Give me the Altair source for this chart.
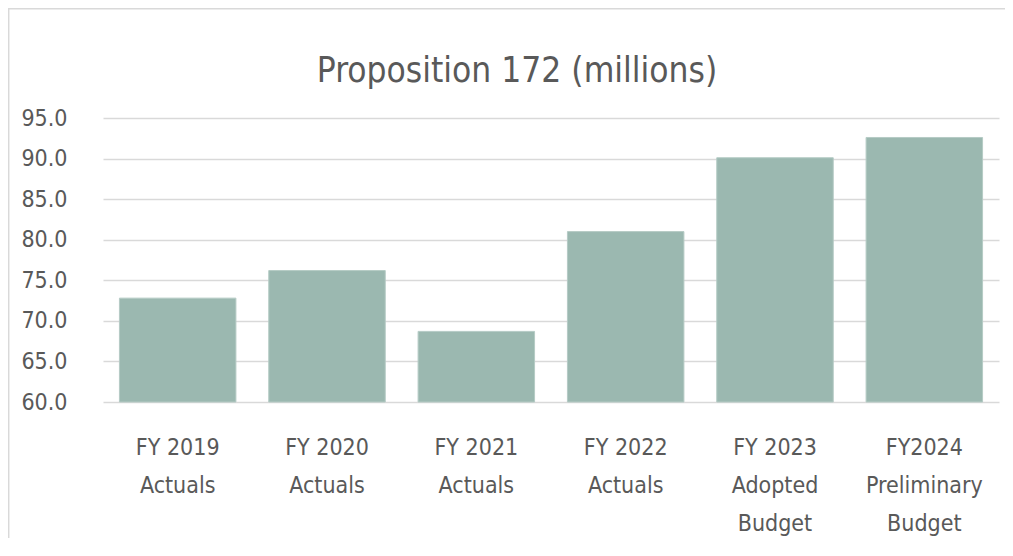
import altair as alt
import pandas as pd

categories = [
    "FY 2019|Actuals",
    "FY 2020|Actuals",
    "FY 2021|Actuals",
    "FY 2022|Actuals",
    "FY 2023|Adopted|Budget",
    "FY2024|Preliminary|Budget",
]
values = [72.8, 76.2, 68.7, 81.0, 90.1, 92.6]
y_ticks = [60, 65, 70, 75, 80, 85, 90, 95]
title_text = "Proposition 172 (millions)"

FONT = "DejaVu Sans Condensed, Roboto, sans-serif"
TEXT = "#595959"
BAR = "#9bb8b0"
FRAME = "#d9d9d9"

df = pd.DataFrame({"category": categories, "value": values})

bars = alt.Chart(df).mark_bar(color=BAR, stroke="#b5cbc5", strokeWidth=1).encode(
    x=alt.X(
        "category:N",
        sort=None,
        title=None,
        scale=alt.Scale(paddingInner=0.22, paddingOuter=0.11),
        axis=alt.Axis(
            labelExpr="split(datum.label, '|')",
            labelAngle=0,
            labelFont=FONT,
            labelFontSize=23,
            labelColor=TEXT,
            labelLineHeight=38,
            labelPadding=34,
            labelBaseline="top",
            ticks=False,
            domain=False,
            grid=False,
        ),
    ),
    y=alt.Y(
        "value:Q",
        title=None,
        scale=alt.Scale(domain=[60, 95], nice=False, zero=False),
        axis=alt.Axis(
            values=y_ticks,
            format=".1f",
            labelFont=FONT,
            labelFontSize=23,
            labelColor=TEXT,
            labelPadding=36,
            ticks=False,
            domain=False,
            grid=True,
            gridColor=FRAME,
            gridWidth=1.5,
        ),
    ),
    y2=alt.datum(60),
)

frame_src = alt.Data(values=[{"a": 1}])
top_line = alt.Chart(frame_src).mark_rule(color=FRAME, strokeWidth=1.5).encode(
    x=alt.value(-95),
    x2=alt.value(902),
    y=alt.value(-109.3),
)
left_line = alt.Chart(frame_src).mark_rule(color=FRAME, strokeWidth=1.5).encode(
    x=alt.value(-94.3),
    y=alt.value(-110),
    y2=alt.value(420),
)

title = alt.Chart(alt.Data(values=[{"t": title_text}])).mark_text(
    font=FONT,
    fontSize=35,
    color=TEXT,
    align="center",
    baseline="alphabetic",
).encode(
    x=alt.value(414),
    y=alt.value(-36),
    text="t:N",
)

chart = alt.layer(top_line, left_line, bars, title).properties(
    width=896,
    height=284,
    padding={"left": 95, "top": 110, "right": 6, "bottom": 136},
    autosize=alt.AutoSizeParams(type="none"),
).configure_view(stroke=None)

chart.save("out.html", embed_options={"renderer": "svg", "actions": False})
